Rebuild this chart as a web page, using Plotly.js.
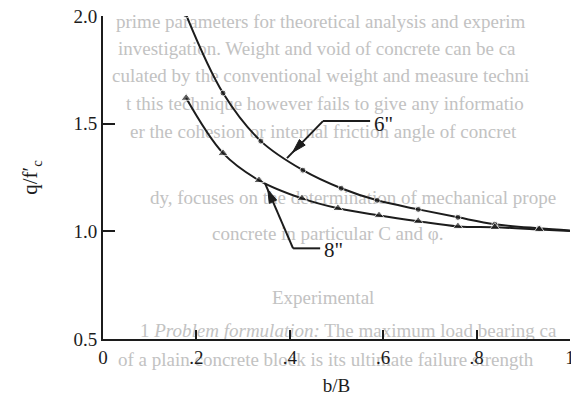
<!DOCTYPE html>
<html>
<head>
<meta charset="utf-8">
<script src="https://cdn.plot.ly/plotly-3.0.1.min.js"></script>
<style>
  html, body { margin: 0; padding: 0; background: #ffffff; }
  #wrap { position: relative; width: 571px; height: 396px; overflow: hidden; }
  #bg { position: absolute; left: 0; top: 0; width: 571px; height: 396px; z-index: 0; overflow: hidden; }
  #bg div { position: absolute; white-space: nowrap; font-family: "Liberation Serif", "DejaVu Serif", serif;
            font-size: 19px; color: #c2c2c2; line-height: 20px; }
  #chart { position: absolute; left: 0; top: 0; width: 571px; height: 396px; z-index: 1; }
</style>
</head>
<body>
<div id="wrap">
  <div id="bg"></div>
  <div id="chart"></div>
</div>
<script>
// ---- data ----
const ratio6 = [0.178, 0.257, 0.338, 0.428, 0.510, 0.587, 0.675, 0.760, 0.839, 0.934, 1.0];
const q6     = [2.005, 1.642, 1.419, 1.284, 1.200, 1.144, 1.102, 1.065, 1.033, 1.014, 1.004];
const ratio8 = [0.178, 0.257, 0.334, 0.426, 0.503, 0.591, 0.675, 0.760, 0.839, 0.934, 1.0];
const q8     = [1.619, 1.363, 1.237, 1.153, 1.107, 1.074, 1.047, 1.023, 1.019, 1.009, 1.002];
const xTickVals = [0, 0.2, 0.4, 0.6, 0.8, 1];
const xTickText = ["0", ".2", ".4", ".6", ".8", "1"];
const yTickVals = [0.5, 1.0, 1.5, 2.0];
const yTickText = ["0.5", "1.0", "1.5", "2.0"];
const label6 = '6"';
const label8 = '8"';

// faint show-through text of the scanned page
const bgLines = [
  [22, 116, "prime parameters for theoretical analysis and experim"],
  [49, 118, "investigation. Weight and void of concrete can be ca"],
  [76, 112, "culated by the conventional weight and measure techni"],
  [104, 126, "t this technique however fails to give any informatio"],
  [132, 130, "er the cohesion or internal friction angle of concret"],
  [198, 150, "dy, focuses on the determination of mechanical prope"],
  [234, 212, "concrete in particular C and \u03c6."],
  [298, 272, "Experimental"],
  [331, 140, "1 <i>Problem formulation:</i> The maximum load bearing ca"],
  [360, 118, "of a plain concrete block is its ultimate failure strength"]
];
const bg = document.getElementById('bg');
bgLines.forEach(function (l) {
  const d = document.createElement('div');
  d.style.top = (l[0] - 10) + 'px';
  d.style.left = l[1] + 'px';
  d.innerHTML = l[2];
  bg.appendChild(d);
});

const ink = '#1c1c1c';
const markerSizes6 = ratio6.map(function (v, i) { return i === ratio6.length - 1 ? 0 : 6; });
const markerSizes8 = ratio8.map(function (v, i) { return i === ratio8.length - 1 ? 0 : 9; });

const traces = [
  {
    x: ratio6, y: q6, name: label6, type: 'scatter', mode: 'lines+markers',
    line: { color: ink, width: 2, shape: 'spline', smoothing: 1 },
    marker: { symbol: 'circle', size: markerSizes6, color: ink },
    showlegend: false, hoverinfo: 'x+y'
  },
  {
    x: ratio8, y: q8, name: label8, type: 'scatter', mode: 'lines+markers',
    line: { color: ink, width: 2, shape: 'spline', smoothing: 1 },
    marker: { symbol: 'triangle-up', size: markerSizes8, color: ink },
    showlegend: false, hoverinfo: 'x+y'
  }
];

const serif = "Liberation Serif, DejaVu Serif, serif";

const layout = {
  width: 571, height: 396,
  margin: { l: 103, r: 1, t: 16, b: 57, pad: 0 },
  paper_bgcolor: 'rgba(0,0,0,0)',
  plot_bgcolor: 'rgba(0,0,0,0)',
  font: { family: serif, color: ink, size: 19 },
  xaxis: {
    range: [0, 1.0], tickmode: 'array', tickvals: xTickVals, ticktext: xTickText,
    ticks: 'inside', ticklen: 9, tickwidth: 2, tickcolor: ink,
    showline: true, linewidth: 2, linecolor: ink, mirror: false,
    showgrid: false, zeroline: false, ticklabeloverflow: 'allow',
    tickfont: { family: serif, size: 19, color: ink },
    title: { text: 'b/B', font: { family: serif, size: 19, color: ink }, standoff: 14 }
  },
  yaxis: {
    range: [0.5, 2.0], tickmode: 'array', tickvals: yTickVals, ticktext: yTickText,
    ticks: 'inside', ticklen: 12, tickwidth: 2, tickcolor: ink,
    showline: true, linewidth: 2, linecolor: ink,
    showgrid: false, zeroline: false, ticklabeloverflow: 'allow', automargin: true,
    tickfont: { family: serif, size: 19, color: ink },
    title: { text: 'q/f\u2032<sub>c</sub>', font: { family: serif, size: 21, color: ink }, standoff: 30 }
  },
  shapes: [
    // leader for 6"
    { type: 'line', xref: 'x', yref: 'y', x0: 0.394, y0: 1.340, x1: 0.471, y1: 1.512, line: { color: ink, width: 2 } },
    { type: 'line', xref: 'x', yref: 'y', x0: 0.471, y0: 1.512, x1: 0.572, y1: 1.512, line: { color: ink, width: 2 } },
    { type: 'path', xref: 'x', yref: 'y', xsizemode: 'pixel', ysizemode: 'pixel', xanchor: 0.394, yanchor: 1.340,
      path: 'M 5.6,5.7 L 12.4,18.6 L 18.2,13.0 Z', fillcolor: ink, line: { color: ink, width: 1 } },
    // leader for 8"
    { type: 'line', xref: 'x', yref: 'y', x0: 0.347, y0: 1.223, x1: 0.407, y1: 0.921, line: { color: ink, width: 2 } },
    { type: 'line', xref: 'x', yref: 'y', x0: 0.407, y0: 0.921, x1: 0.465, y1: 0.921, line: { color: ink, width: 2 } },
    { type: 'path', xref: 'x', yref: 'y', xsizemode: 'pixel', ysizemode: 'pixel', xanchor: 0.347, yanchor: 1.223,
      path: 'M 2.8,-6.4 L 11.6,-16.8 L 4.2,-20.0 Z', fillcolor: ink, line: { color: ink, width: 1 } }
  ],
  annotations: [
    { x: 0.576, y: 1.500, xref: 'x', yref: 'y', text: label6, showarrow: false, xanchor: 'left', yanchor: 'middle',
      font: { family: serif, size: 21, color: ink } },
    { x: 0.470, y: 0.912, xref: 'x', yref: 'y', text: label8, showarrow: false, xanchor: 'left', yanchor: 'middle',
      font: { family: serif, size: 21, color: ink } }
  ]
};

Plotly.newPlot('chart', traces, layout, { displayModeBar: false, staticPlot: true });
</script>
</body>
</html>
